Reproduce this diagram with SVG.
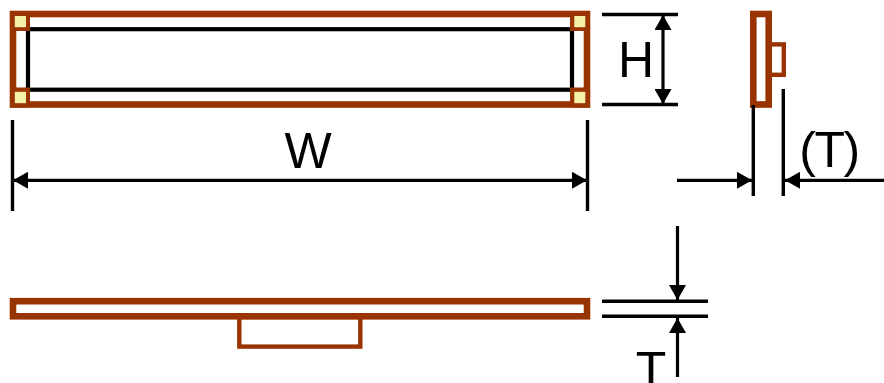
<svg xmlns="http://www.w3.org/2000/svg" width="884" height="383" viewBox="0 0 884 383">
<style>
.b6{fill:none;stroke:#993300;stroke-width:6.6}
.b4{fill:none;stroke:#993300;stroke-width:4.4}
.capo{fill:#993300}
.cap{fill:#f4f1a6}
.blk{fill:none;stroke:#000;stroke-width:4.2}
.ext{stroke:#000;stroke-width:3.4;fill:none}
.dim{stroke:#000;stroke-width:3.2;fill:none;marker-end:url(#ah)}
.dim2{stroke:#000;stroke-width:3.2;fill:none;marker-start:url(#ahs);marker-end:url(#ah)}
text{font-family:"Liberation Sans",Arial,sans-serif;font-size:50px;fill:#000}
</style>
<defs>
<marker id="ah" markerUnits="userSpaceOnUse" markerWidth="16" markerHeight="17" refX="15" refY="8.5" orient="auto"><path d="M0 0L15 8.5L0 17Z" fill="#000"/></marker>
<marker id="ahs" markerUnits="userSpaceOnUse" markerWidth="16" markerHeight="17" refX="0" refY="8.5" orient="auto"><path d="M15 0L0 8.5L15 17Z" fill="#000"/></marker>
</defs>
<rect width="884" height="383" fill="#fff"/>
<g id="front-view">
<rect class="blk" x="28" y="29.2" width="544" height="60.5"/>
<rect class="b6" x="13" y="14" width="574" height="90.5"/>
<rect class="capo" x="10" y="11" width="20" height="20"/>
<rect class="capo" x="570" y="11" width="20" height="20"/>
<rect class="capo" x="10" y="87.5" width="20" height="20"/>
<rect class="capo" x="570" y="87.5" width="20" height="20"/>
<rect class="cap" x="14.8" y="16" width="11.2" height="11.2"/>
<rect class="cap" x="574.3" y="16" width="11" height="11.2"/>
<rect class="cap" x="14.8" y="91.8" width="11.2" height="11.4"/>
<rect class="cap" x="574.3" y="91.8" width="11" height="11.4"/>
</g>
<g id="side-view">
<rect class="b4" x="769" y="44.4" width="14.8" height="30.4"/>
<rect class="b6" x="753.3" y="14" width="15.4" height="90.5"/>
</g>
<g id="bottom-view">
<rect class="b4" x="239.3" y="317" width="121" height="29.6"/>
<rect class="b6" x="13" y="301.2" width="574" height="15.1"/>
</g>
<g id="connectors">
<path class="ext" d="M602 14.5H678M602 104.5H678"/>
<path class="dim2" d="M663 15V104"/>
<path class="ext" d="M12.5 120V211M587.5 120V211"/>
<path class="dim2" d="M13 180.3H587"/>
<path class="ext" d="M753.3 105V196M783.3 89V196"/>
<path class="dim" d="M677 180.3H752"/>
<path class="dim" d="M884 180.3H785"/>
<path class="ext" d="M602 301.3H708M602 316.3H708"/>
<path class="dim" d="M677.5 226V300"/>
<path class="dim" d="M677.5 377V318"/>
</g>
<g id="labels">
<text x="636" y="77" text-anchor="middle">H</text>
<text x="308" y="168" text-anchor="middle">W</text>
<text x="829" y="167" text-anchor="middle" style="letter-spacing:-1.5px">(T)</text>
<text x="651" y="386.5" text-anchor="middle">T</text>
</g>
</svg>
